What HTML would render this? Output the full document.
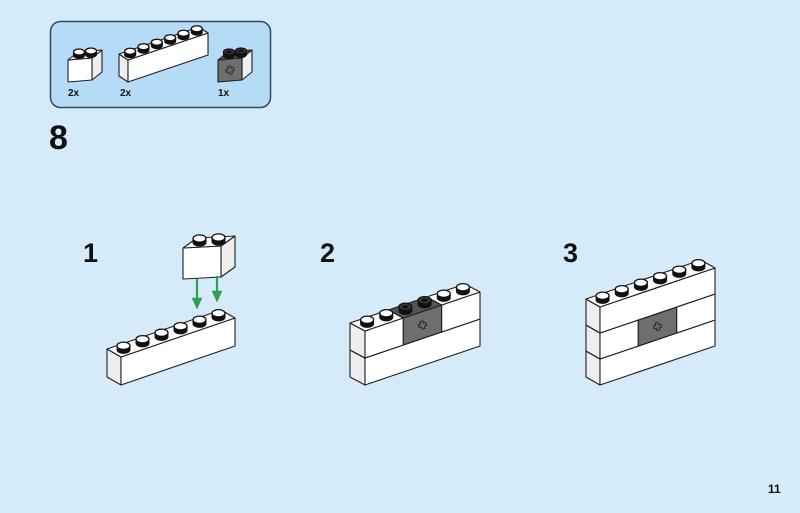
<!DOCTYPE html>
<html><head><meta charset="utf-8">
<style>
html,body{margin:0;padding:0;background:#d5ebfa;}
svg{display:block;}
text{font-family:"Liberation Sans",sans-serif;font-weight:bold;fill:#111;}
</style></head>
<body>
<svg id="s" width="800" height="513" viewBox="0 0 800 513" xmlns="http://www.w3.org/2000/svg">
<rect width="800" height="513" fill="#d5ebfa"/>
<rect x="50.5" y="21.5" width="220" height="86" rx="10" fill="#b6dbf7" stroke="#34495c" stroke-width="1.5"/>
<text x="68" y="96" font-size="10">2x</text>
<text x="120" y="96" font-size="10">2x</text>
<text x="218" y="96" font-size="10">1x</text>
<text x="49" y="149" font-size="34">8</text>
<text x="83" y="262" font-size="27">1</text>
<text x="320" y="262" font-size="27">2</text>
<text x="563" y="262" font-size="27">3</text>
<text x="768" y="493" font-size="12">11</text>
<g id="g"></g>
</svg>
<script>
var out='';
function P(pts,fill){out+='<polygon points="'+pts.map(function(p){return p[0].toFixed(1)+','+p[1].toFixed(1)}).join(' ')+'" fill="'+fill+'" stroke="#1e1e1e" stroke-width="1.1" stroke-linejoin="round"/>';}
function add(a,b){return [a[0]+b[0],a[1]+b[1]];}
function mul(a,k){return [a[0]*k,a[1]*k];}
function stud(c,rx,ry,sh,dark){
  var top=[c[0],c[1]-sh];
  out+='<path d="M'+(c[0]-rx)+','+top[1]+' L'+(c[0]-rx)+','+c[1]+' A'+rx+','+ry+' 0 0 0 '+(c[0]+rx)+','+c[1]+' L'+(c[0]+rx)+','+top[1]+' Z" fill="#111" stroke="#111" stroke-width="1"/>';
  out+='<ellipse cx="'+top[0]+'" cy="'+top[1]+'" rx="'+rx+'" ry="'+ry+'" fill="'+(dark?'#3a3a3a':'#fff')+'" stroke="#111" stroke-width="1.3"/>';
  if(dark) out+='<ellipse cx="'+top[0]+'" cy="'+top[1]+'" rx="'+(rx*0.5)+'" ry="'+(ry*0.5)+'" fill="#111"/>';
}
function brick(A,L,D,H,n,segs,studs,opt){
  opt=opt||{};
  var Hv=[0,-H];
  var A2=add(A,Hv), B=add(A,L), B2=add(B,Hv);
  if(D[0]<0){P([A,A2,add(A2,D),add(A,D)],'#eeeeee');}
  else{P([B,B2,add(B2,D),add(B,D)],'#eeeeee');}
  for(var i=0;i<n;){
    var j=i;while(j<n&&segs[j]==segs[i])j++;
    var s=add(A,mul(L,i/n)), e=add(A,mul(L,j/n));
    var col=segs[i]=='g'?'#6e6e6e':'#ffffff';
    P([s,e,add(e,Hv),add(s,Hv)],col);
    if(segs[i]=='g'){
      var m=add(add(s,mul(L,(j-i)/n/2)),[0,-H/2]);
      out+='<path d="M'+(m[0]-4)+','+(m[1]-1.5)+' h2.5 v-2.5 h3 v2.5 h2.5 v3 h-2.5 v2.5 h-3 v-2.5 h-2.5 Z" fill="none" stroke="#222" stroke-width="0.9" transform="rotate(-15 '+m[0]+' '+m[1]+')"/>';
    }
    i=j;
  }
  for(var i=0;i<n;){
    var j=i;while(j<n&&segs[j]==segs[i])j++;
    var s=add(A2,mul(L,i/n)), e=add(A2,mul(L,j/n));
    P([s,e,add(e,D),add(s,D)],segs[i]=='g'?'#555':'#fbfbfb');
    i=j;
  }
  if(studs){
    var rx=opt.rx||6.5, ry=opt.ry||3.6, sh=opt.sh||4;
    for(var k=0;k<n;k++){
      var c=add(add(A2,mul(D,0.5)),mul(L,(k+0.5)/n));
      stud(c,rx,ry,sh,segs[k]=='g');
    }
  }
}
// parts box
brick([68,82],[24,-2],[10,-8],22,2,['w','w'],true,{rx:5.5,ry:3,sh:3.5});
brick([128,82],[80,-27],[-9,-6],22,6,['w','w','w','w','w','w'],true,{rx:5.5,ry:3,sh:3.5});
brick([218,82],[24,-2],[10,-8],22,2,['g','g'],true,{rx:5.5,ry:3,sh:3.5});
// step 1
brick([121,385],[114,-39],[-14,-8],28,6,['w','w','w','w','w','w'],true);
brick([183,279],[38,-2],[14,-10],31,2,['w','w'],true,{rx:6.5,ry:3.6,sh:4});
out+='<g stroke="#2f9e55" stroke-width="2.2" fill="#2f9e55">';
out+='<line x1="197" y1="279" x2="197" y2="300"/><polygon points="192,298 202,298 197,309" stroke-width="0.5"/>';
out+='<line x1="217" y1="276" x2="217" y2="293"/><polygon points="212,291 222,291 217,302" stroke-width="0.5"/>';
out+='</g>';
// step 2
brick([365,385],[115,-39],[-15,-8],27,6,['w','w','w','w','w','w'],false);
brick([365,358],[115,-39],[-15,-8],27,6,['w','w','g','g','w','w'],true);
// step 3
brick([600,385],[115,-39],[-14,-8],26,6,['w','w','w','w','w','w'],false);
brick([600,359],[115,-39],[-14,-8],26,6,['w','w','g','g','w','w'],false);
brick([600,333],[115,-39],[-14,-8],26,6,['w','w','w','w','w','w'],true);
document.getElementById('g').innerHTML=out;
</script>
</body></html>
